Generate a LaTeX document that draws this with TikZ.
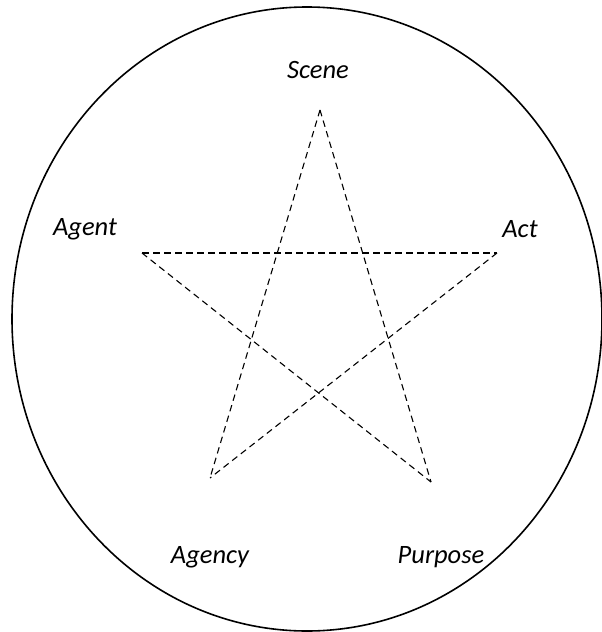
\documentclass[tikz,border=0pt]{standalone}
\usepackage{fontspec}
\setmainfont{Carlito}
\begin{document}
\begin{tikzpicture}[x=1pt,y=-1pt,
  lbl/.style={font=\fontsize{26.5}{30}\selectfont\itshape, inner sep=0pt},
  edge/.style={line width=1.1pt, dash pattern=on 6.5pt off 4.5pt},
  outline/.style={line width=1.6pt}]
\useasboundingbox (0,0) rectangle (602,632);
\draw[outline] (307,319) ellipse [x radius=295, y radius=312];
\coordinate (sc) at (320,110);
\coordinate (ag) at (142,253);
\coordinate (ac) at (497,253);
\coordinate (ay) at (210,478);
\coordinate (pu) at (431,482);
\node[lbl] (tsc) at (318,70) {Scene};
\node[lbl] (tag) at (85,229) {Agent};
\node[lbl] (tac) at (520,229) {Act};
\node[lbl] (tay) at (210,557) {Agency};
\node[lbl] (tpu) at (441,557) {Purpose};
\draw[edge] (sc) -- (ay);
\draw[edge] (sc) -- (pu);
\draw[edge] (ag) -- (ac);
\draw[edge] (ag) -- (pu);
\draw[edge] (ac) -- (ay);
\end{tikzpicture}
\end{document}
